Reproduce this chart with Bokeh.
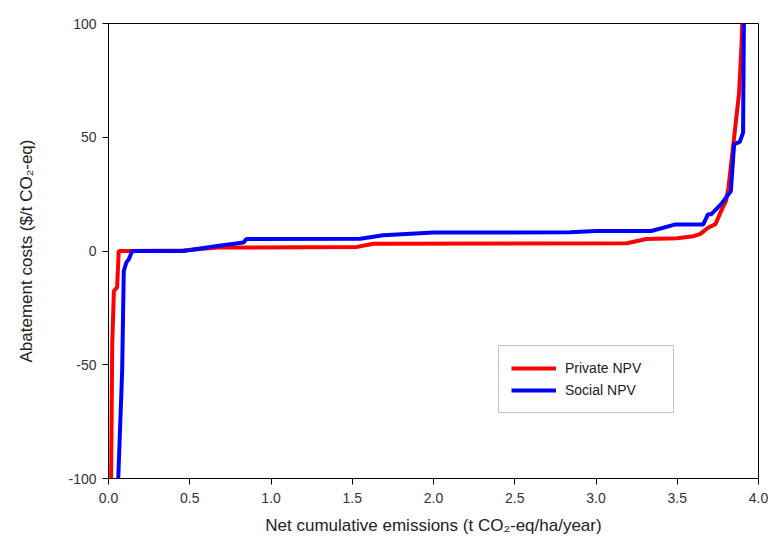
from bokeh.plotting import figure
from bokeh.models import Legend, LegendItem, FixedTicker, Range1d, CustomJSTickFormatter
from bokeh.embed import file_html
from bokeh.resources import INLINE

# Private NPV curve
private_x = [0.016, 0.023, 0.033, 0.053, 0.063, 0.15, 0.46, 0.67, 1.53, 1.63, 3.19, 3.31,
             3.5, 3.6, 3.64, 3.69, 3.735, 3.77, 3.8, 3.815, 3.85, 3.88, 3.895, 3.90]
private_y = [-100, -41, -17.6, -16, 0, 0, 0.2, 1.5, 1.8, 3.2, 3.4, 5.3,
             5.6, 6.5, 7.4, 10.2, 11.8, 17.6, 22, 27.8, 50, 69, 90, 100]

# Social NPV curve
social_x = [0.06, 0.084, 0.094, 0.11, 0.125, 0.146, 0.46, 0.67, 0.83, 0.85, 1.55, 1.69,
            2.0, 2.84, 3.0, 3.34, 3.49, 3.66, 3.69, 3.71, 3.77, 3.83, 3.85, 3.885, 3.905, 3.91]
social_y = [-100, -52.7, -8.8, -5, -3.6, 0, 0, 2.2, 3.7, 5.3, 5.4, 6.9,
            8.1, 8.2, 8.8, 8.8, 11.7, 11.7, 16.2, 16.2, 20.6, 26.4, 47, 48, 52, 100]

x_ticks = [0.0, 0.5, 1.0, 1.5, 2.0, 2.5, 3.0, 3.5, 4.0]
y_ticks = [-100, -50, 0, 50, 100]

FONT = "Liberation Sans"

p = figure(width=768, height=544, output_backend="svg", toolbar_location=None,
           x_range=Range1d(0, 4), y_range=Range1d(-100, 100),
           min_border_left=108, min_border_right=10, min_border_top=23, min_border_bottom=66)

p.xgrid.visible = False
p.ygrid.visible = False
p.outline_line_color = "black"
p.outline_line_width = 1
p.background_fill_color = "white"
p.border_fill_color = "white"

r1 = p.line(private_x, private_y, line_color="#FF0000", line_width=4)
r2 = p.line(social_x, social_y, line_color="#0000FF", line_width=4)

p.xaxis.ticker = FixedTicker(ticks=x_ticks)
p.yaxis.ticker = FixedTicker(ticks=y_ticks)
p.xaxis.formatter = CustomJSTickFormatter(code="return tick.toFixed(1);")
p.yaxis.formatter = CustomJSTickFormatter(code="return tick.toFixed(0);")

for ax in (p.xaxis[0], p.yaxis[0]):
    ax.major_tick_out = 6
    ax.major_tick_in = 0
    ax.minor_tick_line_color = None
    ax.axis_line_color = "black"
    ax.major_tick_line_color = "black"
    ax.major_label_text_font = FONT
    ax.major_label_text_font_size = "14px"
    ax.major_label_text_color = "#333333"
    ax.axis_label_text_font = FONT
    ax.axis_label_text_font_size = "17px"
    ax.axis_label_text_font_style = "normal"
    ax.axis_label_text_color = "#222222"

p.xaxis.axis_label = "Net cumulative emissions (t CO\u2082-eq/ha/year)"
p.yaxis.axis_label = "Abatement costs ($/t CO\u2082-eq)"
p.xaxis.major_label_standoff = 8
p.yaxis.major_label_standoff = 6
p.xaxis.axis_label_standoff = 10
p.yaxis.axis_label_standoff = 29

legend = Legend(items=[LegendItem(label="Private NPV", renderers=[r1]),
                       LegendItem(label="Social NPV", renderers=[r2])],
                location=(390, 65))
legend.border_line_color = "#888888"
legend.border_line_width = 1
legend.background_fill_color = "white"
legend.background_fill_alpha = 1
legend.label_text_font = FONT
legend.label_text_font_size = "14px"
legend.label_text_color = "#222222"
legend.glyph_width = 45
legend.glyph_height = 20
legend.label_height = 20
legend.label_width = 96
legend.label_standoff = 9
legend.spacing = 2
legend.padding = 12
legend.margin = 0
p.add_layout(legend, "center")

open("out.html", "w").write(file_html(p, INLINE))
